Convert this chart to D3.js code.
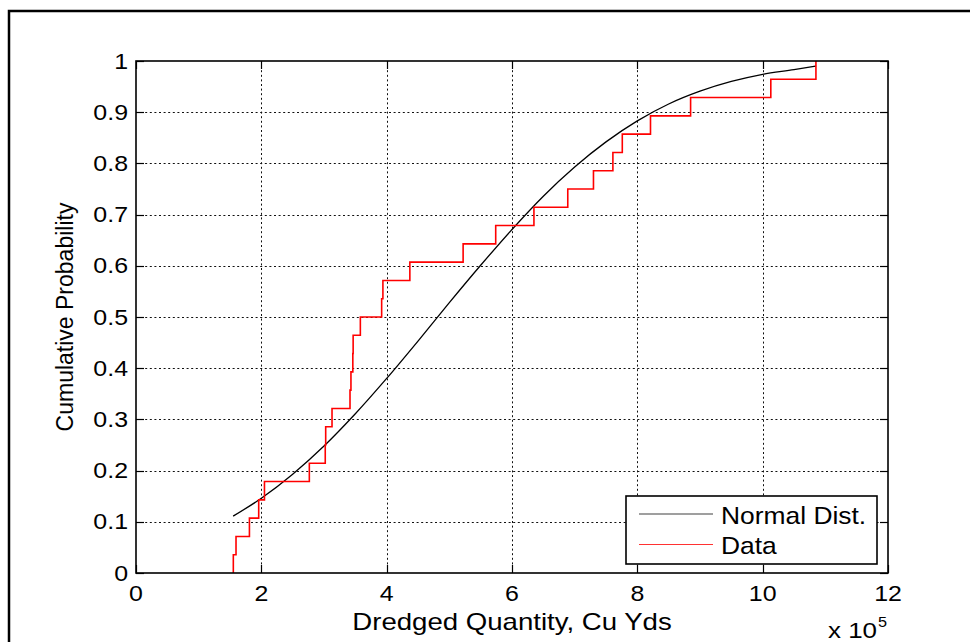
<!DOCTYPE html>
<html><head><meta charset="utf-8">
<script src="https://cdn.jsdelivr.net/npm/d3@7"></script>
<style>
body{margin:0;background:#fff}
svg{display:block}
text{font-family:"Liberation Sans",Arial,Helvetica,sans-serif;fill:#000}
</style>
</head><body>
<svg id="c" width="970" height="642"></svg>
<script>
// ---- data (x in units of 10^5 cu yds) ----
const xTicks = [0, 2, 4, 6, 8, 10, 12];
const yTicks = [0, 0.1, 0.2, 0.3, 0.4, 0.5, 0.6, 0.7, 0.8, 0.9, 1];
const dataX = [1.553, 1.596, 1.81, 1.958, 2.05, 2.766, 3.02, 3.027, 3.128, 3.415,
               3.43, 3.46, 3.465, 3.58, 3.92, 3.94, 4.37, 5.22, 5.74, 6.35,
               6.89, 7.30, 7.61, 7.76, 8.21, 8.85, 10.13, 10.85];
const dataP = [0.0357, 0.0714, 0.1071, 0.1429, 0.1786, 0.2143, 0.25, 0.2857, 0.3214, 0.3571,
               0.3929, 0.4286, 0.4643, 0.5, 0.5357, 0.5714, 0.6071, 0.6429, 0.6786, 0.7143,
               0.75, 0.7857, 0.8214, 0.8571, 0.8929, 0.9286, 0.9643, 1.0];
const normX = [1.55, 2.0, 2.5, 3.0, 3.5, 4.0, 4.5, 5.0, 5.5, 6.0,
               6.5, 7.0, 7.5, 8.0, 8.5, 9.0, 9.5, 10.0, 10.5, 10.85];
const normP = [0.111, 0.146, 0.193, 0.248, 0.311, 0.380, 0.453, 0.528, 0.601, 0.671,
               0.736, 0.793, 0.842, 0.883, 0.916, 0.941, 0.960, 0.974, 0.983, 0.990];
const legendLabels = ["Normal Dist.", "Data"];
const xLabel = "Dredged Quantity, Cu Yds";
const yLabel = "Cumulative Probability";
const expBase = "x 10", expPow = "5";

// ---- layout ----
const m = {l: 136, r: 888, t: 61, b: 573};
const SX = 1.16; // horizontal text stretch of the reference
const svg = d3.select("#c");
const x = d3.scaleLinear().domain([0, 12]).range([m.l, m.r]);
const y = d3.scaleLinear().domain([0, 1]).range([m.b, m.t]);

function txt(g, s, tx, ty, size, anchor, sx) {
  return g.append("text").text(s)
    .attr("transform", `translate(${tx},${ty}) scale(${sx || SX},1)`)
    .attr("font-size", size).attr("text-anchor", anchor || "start");
}

// outer figure frame
svg.append("rect").attr("x", 9).attr("y", 11).attr("width", 980).attr("height", 700)
  .attr("fill", "none").attr("stroke", "#000").attr("stroke-width", 2.5);

// grid
const grid = svg.append("g").attr("stroke", "#111").attr("stroke-width", 1)
  .attr("stroke-dasharray", "2,2.6");
grid.selectAll(".gx").data(xTicks.slice(1, -1)).join("line")
  .attr("x1", d => Math.round(x(d)) + 0.5).attr("x2", d => Math.round(x(d)) + 0.5)
  .attr("y1", m.t).attr("y2", m.b);
grid.selectAll(".gy").data(yTicks.slice(1, -1)).join("line")
  .attr("y1", d => Math.round(y(d)) + 0.5).attr("y2", d => Math.round(y(d)) + 0.5)
  .attr("x1", m.l).attr("x2", m.r);

// inward ticks on all four sides
const tk = svg.append("g").attr("stroke", "#000").attr("stroke-width", 1.2);
const TL = 8;
xTicks.forEach(d => {
  const px = Math.round(x(d)) + 0.5;
  tk.append("line").attr("x1", px).attr("x2", px).attr("y1", m.b).attr("y2", m.b - TL);
  tk.append("line").attr("x1", px).attr("x2", px).attr("y1", m.t).attr("y2", m.t + TL);
});
yTicks.forEach(d => {
  const py = Math.round(y(d)) + 0.5;
  tk.append("line").attr("x1", m.l).attr("x2", m.l + TL).attr("y1", py).attr("y2", py);
  tk.append("line").attr("x1", m.r).attr("x2", m.r - TL).attr("y1", py).attr("y2", py);
});

// normal curve
const line = d3.line().x(d => x(d[0])).y(d => y(d[1])).curve(d3.curveMonotoneX);
svg.append("path").datum(normX.map((v, i) => [v, normP[i]]))
  .attr("d", line).attr("fill", "none").attr("stroke", "#000").attr("stroke-width", 1.3);

// empirical data (stairs)
const stairPts = [[dataX[0], 0]].concat(dataX.map((v, i) => [v, dataP[i]]));
const stair = d3.line().x(d => x(d[0])).y(d => y(d[1])).curve(d3.curveStepAfter);
svg.append("path").datum(stairPts).attr("d", stair)
  .attr("fill", "none").attr("stroke", "#ff0000").attr("stroke-width", 1.6);

// plot box
svg.append("rect").attr("x", m.l).attr("y", m.t).attr("width", m.r - m.l).attr("height", m.b - m.t)
  .attr("fill", "none").attr("stroke", "#000").attr("stroke-width", 1.6);

// tick labels
const lab = svg.append("g");
xTicks.forEach(d => txt(lab, d3.format("")(d), x(d), 600.5, 21.5, "middle"));
yTicks.forEach(d => txt(lab, d3.format("")(d), 128, y(d) + 7.5, 21.5, "end"));

// axis labels
txt(svg, xLabel, (m.l + m.r) / 2, 629.5, 23, "middle", 1.2);
svg.append("text").text(yLabel)
  .attr("transform", `translate(73,${(m.t + m.b) / 2}) rotate(-90)`)
  .attr("font-size", 23).attr("text-anchor", "middle");

// exponent
txt(svg, expBase, 828, 638, 22, "start", 1.18);
txt(svg, expPow, 878, 627, 14, "start");

// legend
const lg = svg.append("g");
lg.append("rect").attr("x", 626).attr("y", 496).attr("width", 251).attr("height", 68)
  .attr("fill", "#fff").attr("stroke", "#000").attr("stroke-width", 1.6);
const lgColors = ["#000", "#ff0000"];
const lgY = [514, 544.5];
legendLabels.forEach((s, i) => {
  lg.append("line").attr("x1", 639).attr("x2", 713).attr("y1", lgY[i]).attr("y2", lgY[i])
    .attr("stroke", lgColors[i]).attr("stroke-width", 1.2).attr("opacity", i ? 0.8 : 0.75);
  txt(lg, s, 721, lgY[i] + 9.5, 24, "start", 1.1);
});
</script>
</body></html>
